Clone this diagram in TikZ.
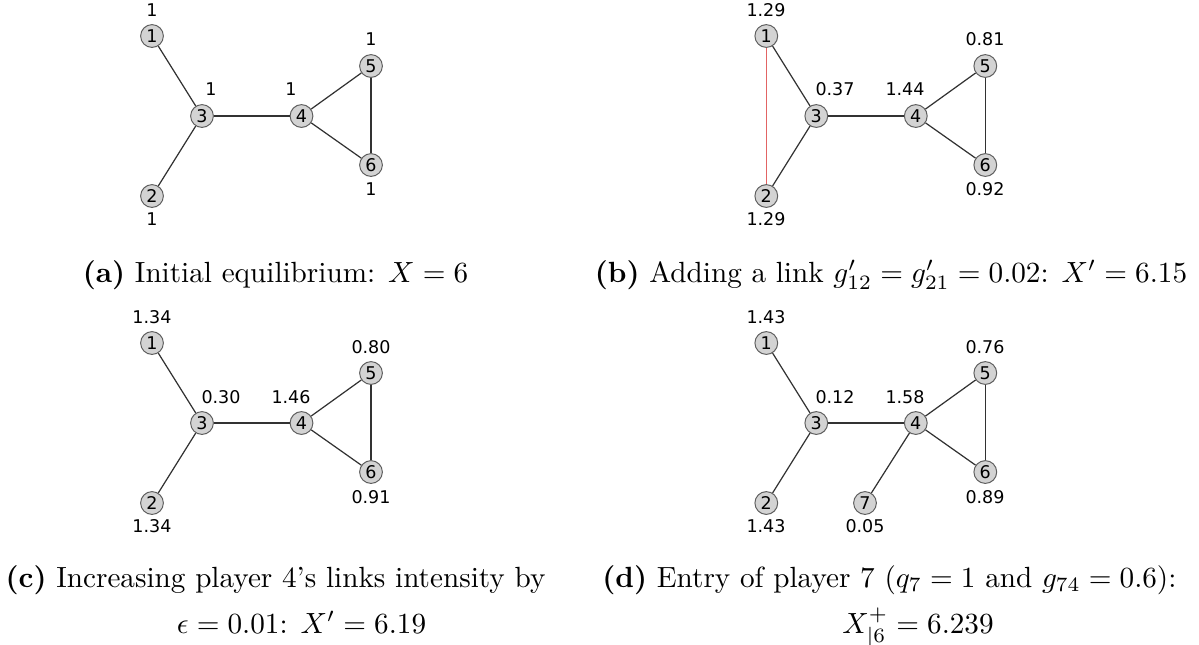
\documentclass[tikz,border=0pt]{standalone}
\usepackage{fontspec}
\newfontfamily\lblfont{DejaVu Sans}
\definecolor{vfill}{RGB}{211,211,211}
\definecolor{vdraw}{RGB}{95,95,95}
\definecolor{egray}{RGB}{50,50,50}
\definecolor{rededge}{RGB}{226,100,100}
\begin{document}
\begin{tikzpicture}[x=0.3425pt,y=-0.3425pt,
  vtx/.style={circle,draw=vdraw,fill=vfill,line width=0.34pt,minimum size=7.8pt,inner sep=0pt,
    font=\lblfont\fontsize{6}{7}\selectfont},
  lbl/.style={inner sep=0pt,font=\lblfont\fontsize{6}{7}\selectfont},
  edgeline/.style={draw=egray,line width=0.42pt},
  redline/.style={draw=rededge,line width=0.42pt},
  capt/.style={anchor=base,inner sep=0pt,font=\normalsize}]
\useasboundingbox (0,0) rectangle (1199,644);
\foreach \p/\dx/\dy in {a/0/0, b/614.3/0, c/0/307, d/614.3/307} {
  \node[vtx] (\p1) at (152+\dx, 36+\dy) {1};
  \node[vtx] (\p2) at (152+\dx, 196+\dy) {2};
  \node[vtx] (\p3) at (202+\dx, 116+\dy) {3};
  \node[vtx] (\p4) at (301.5+\dx, 116+\dy) {4};
  \node[vtx] (\p5) at (371+\dx, 66+\dy) {5};
  \node[vtx] (\p6) at (371+\dx, 165+\dy) {6};
}
\node[vtx] (d7) at (865, 503) {7};
% edges
\foreach \p in {a,b,c,d} {
  \draw[edgeline] (\p1) -- (\p3);
  \draw[edgeline] (\p2) -- (\p3);
  \draw[edgeline] (\p3) -- (\p4);
  \draw[edgeline] (\p4) -- (\p5);
  \draw[edgeline] (\p4) -- (\p6);
  \draw[edgeline] (\p5) -- (\p6);
}
\draw[redline] (b1) -- (b2);
\draw[edgeline] (d4) -- (d7);
% value labels, panel a
\node[lbl] (la1) at (152,10) {1};
\node[lbl] (la2) at (152,219) {1};
\node[lbl] (la3) at (211,89) {1};
\node[lbl] (la4) at (291,89) {1};
\node[lbl] (la5) at (371,39.5) {1};
\node[lbl] (la6) at (371,189.5) {1};
% panel b
\node[lbl] (lb1) at (766,10) {1.29};
\node[lbl] (lb2) at (766,219) {1.29};
\node[lbl] (lb3) at (835,89) {0.37};
\node[lbl] (lb4) at (905,89) {1.44};
\node[lbl] (lb5) at (985,39.5) {0.81};
\node[lbl] (lb6) at (985,189.5) {0.92};
% panel c
\node[lbl] (lc1) at (152,317) {1.34};
\node[lbl] (lc2) at (152,526) {1.34};
\node[lbl] (lc3) at (221,397) {0.30};
\node[lbl] (lc4) at (291,397) {1.46};
\node[lbl] (lc5) at (371,347) {0.80};
\node[lbl] (lc6) at (371,497) {0.91};
% panel d
\node[lbl] (ld1) at (766,317) {1.43};
\node[lbl] (ld2) at (766,526) {1.43};
\node[lbl] (ld3) at (835,397) {0.12};
\node[lbl] (ld4) at (905,397) {1.58};
\node[lbl] (ld5) at (985,347) {0.76};
\node[lbl] (ld6) at (985,497) {0.89};
\node[lbl] (ld7) at (865,526) {0.05};
% captions
\node[capt] (capa) at (275.5,282) {\textbf{(a)} Initial equilibrium: $X=6$};
\node[capt] (capb) at (891,282) {\textbf{(b)} Adding a link $g'_{12}=g'_{21}=0.02$: $X'=6.15$};
\node[capt] (capc1) at (275.5,587) {\textbf{(c)} Increasing player 4's links intensity by};
\node[capt] (capc2) at (301.5,633) {$\epsilon=0.01$: $X'=6.19$};
\node[capt] (capd1) at (889.4,587) {\textbf{(d)} Entry of player 7 ($q_7=1$ and $g_{74}=0.6$):};
\node[capt] (capd2) at (918,633) {$X^+_{|6}=6.239$};
\end{tikzpicture}
\end{document}
